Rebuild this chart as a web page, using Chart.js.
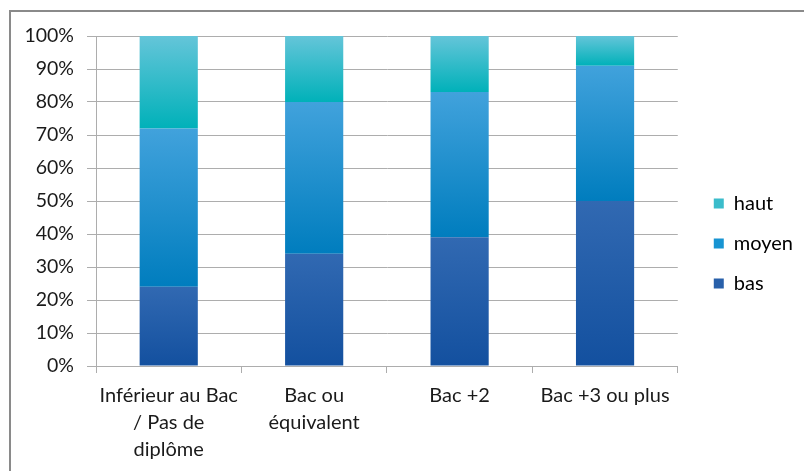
<!DOCTYPE html>
<html>
<head>
<meta charset="utf-8">
<script src="https://cdn.jsdelivr.net/npm/chart.js@4/dist/chart.umd.min.js"></script>
<style>
  html, body { margin: 0; padding: 0; background: #fff; overflow: hidden; }
  #wrap { position: absolute; left: 0; top: 0; width: 804px; height: 471px; }
  #frame { position: absolute; left: 9px; top: 10px; width: 820px; height: 500px; border: 2px solid #8a8a8a; box-sizing: border-box; }
  canvas { position: absolute; left: 0; top: 0; }
</style>
</head>
<body>
<div id="wrap">
  <div id="frame"></div>
  <canvas id="c" width="804" height="471"></canvas>
</div>
<script>
const categories = [["Inférieur au Bac", "/ Pas de", "diplôme"], ["Bac ou", "équivalent"], "Bac +2", "Bac +3 ou plus"];
const seriesNames = ["bas", "moyen", "haut"];
const bas = [24, 34, 39, 50];
const moyen = [48, 46, 44, 41];
const haut = [28, 20, 17, 9];
const yTicks = [0, 10, 20, 30, 40, 50, 60, 70, 80, 90, 100];

const gradients = {
  bas: ["#3169B2", "#13509F"],
  moyen: ["#41A2DC", "#007DBE"],
  haut: ["#64C5D9", "#00B1B9"]
};
const legendColors = { bas: "#2860AA", moyen: "#1894D2", haut: "#3BBCCB" };

function gradFill(name) {
  return function (ctx) {
    const chart = ctx.chart;
    const stops = gradients[name];
    if (!chart.chartArea || ctx.dataIndex === undefined) return stops[1];
    const ys = chart.scales.y;
    let base = 0;
    for (let d = 0; d < ctx.datasetIndex; d++) base += chart.data.datasets[d].data[ctx.dataIndex];
    const top = base + chart.data.datasets[ctx.datasetIndex].data[ctx.dataIndex];
    const y0 = ys.getPixelForValue(base), y1 = ys.getPixelForValue(top);
    const g = chart.ctx.createLinearGradient(0, y1, 0, y0);
    g.addColorStop(0, stops[0]);
    g.addColorStop(1, stops[1]);
    return g;
  };
}

const seriesData = { bas, moyen, haut };
const FONT = "Lato, 'Open Sans', sans-serif";
const gridColor = "#ADADAD";

new Chart(document.getElementById("c"), {
  type: "bar",
  data: {
    labels: categories,
    datasets: seriesNames.map(n => ({
      label: n,
      data: seriesData[n],
      backgroundColor: gradFill(n),
      borderWidth: 0,
      categoryPercentage: 1,
      barPercentage: 0.4
    }))
  },
  options: {
    responsive: false,
    animation: false,
    layout: { padding: { top: 16, left: 0, right: 1, bottom: 0 } },
    plugins: {
      tooltip: { enabled: false },
      legend: {
        position: "right",
        reverse: true,
        labels: {
          boxWidth: 10,
          boxHeight: 10,
          padding: 20,
          color: "#1a1a1a",
          font: { family: FONT, size: 20 },
          generateLabels: function (chart) {
            return chart.data.datasets.map((ds, i) => ({
              text: ds.label,
              fillStyle: legendColors[ds.label],
              strokeStyle: legendColors[ds.label],
              lineWidth: 0,
              datasetIndex: i,
              hidden: false
            }));
          }
        }
      }
    },
    scales: {
      x: {
        stacked: true,
        grid: { display: true, drawOnChartArea: false, drawTicks: true, tickLength: 7, offset: true, color: gridColor },
        border: { display: true, color: gridColor, width: 1 },
        ticks: { color: "#1a1a1a", font: { family: FONT, size: 20, lineHeight: 1.35 }, padding: 9, maxRotation: 0, autoSkip: false },
        afterFit: s => { s.height = 105; }
      },
      y: {
        stacked: true,
        min: 0,
        max: 100,
        afterBuildTicks: s => { s.ticks = yTicks.map(v => ({ value: v })); },
        grid: { color: gridColor, tickLength: 9, drawTicks: true },
        border: { display: true, color: gridColor, width: 1 },
        ticks: { color: "#1a1a1a", font: { family: FONT, size: 19.5 }, padding: 13, callback: v => v + "%" },
        afterFit: s => { s.width = 96; }
      },
      spacer: {
        position: "right",
        display: true,
        grid: { display: false, drawTicks: false },
        border: { display: false },
        ticks: { display: false },
        afterFit: s => { s.width = 16; }
      },
      topSpacer: {
        position: "top",
        axis: "x",
        type: "linear",
        display: true,
        grid: { display: false, drawTicks: false },
        border: { display: false },
        ticks: { display: false },
        afterFit: s => { s.height = 20; }
      }
    }
  }
});
</script>
</body>
</html>
